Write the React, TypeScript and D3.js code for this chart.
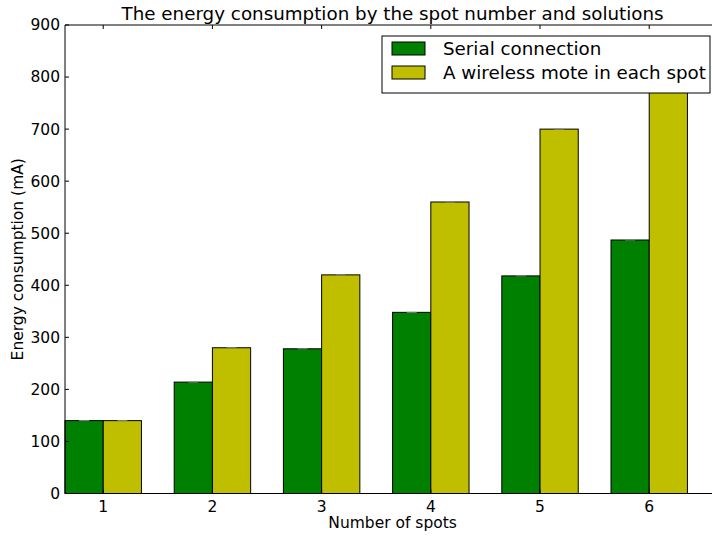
import React from "react";
import * as d3 from "d3";

const spots = [1, 2, 3, 4, 5, 6];
const serialValues = [140, 214, 278, 348, 418, 487];
const wirelessValues = [140, 280, 420, 560, 700, 840];
const yTicks = [0, 100, 200, 300, 400, 500, 600, 700, 800, 900];
const seriesNames = ["Serial connection", "A wireless mote in each spot"];
const seriesColors = ["#008000", "#bfbf00"];

const W = 712;
const H = 537;
const margin = { left: 65, top: 25, bottom: 43.5 };
const barW = 0.35;

export default function App() {
  const x = d3
    .scaleLinear()
    .domain([1 - barW, 1 - barW + 6])
    .range([margin.left, margin.left + 6 * 109.2]);
  const y = d3.scaleLinear().domain([0, 900]).range([H - margin.bottom, margin.top]);
  const x0 = margin.left;
  const x1 = x.range()[1];
  const y0 = y(0);
  const yTop = y(900);
  const font = "DejaVu Sans, sans-serif";
  const series = [serialValues, wirelessValues];

  return (
    <svg width={W} height={H} style={{ position: "absolute", left: 0, top: 0, background: "#fff", overflow: "hidden" }}>
      <rect x={0} y={0} width={W} height={H} fill="#fff" />
      {series.map((vals, si) =>
        spots.map((s, i) => {
          const left = si === 0 ? x(s - barW) : x(s);
          const right = si === 0 ? x(s) : x(s + barW);
          const cx = (left + right) / 2;
          return (
            <g key={`${si}-${i}`}>
              <rect
                x={left}
                y={y(vals[i])}
                width={right - left}
                height={y0 - y(vals[i])}
                fill={seriesColors[si]}
                stroke="#000"
                strokeWidth={1}
              />
              <line x1={cx - 5} x2={cx + 5} y1={y(vals[i])} y2={y(vals[i])} stroke="#888" strokeWidth={1} />
            </g>
          );
        })
      )}
      {/* frame */}
      <line x1={x0} x2={x0} y1={yTop} y2={y0} stroke="#000" strokeWidth={1} />
      <line x1={x0} x2={x1} y1={yTop} y2={yTop} stroke="#000" strokeWidth={1} />
      <line x1={x0} x2={x1} y1={y0} y2={y0} stroke="#000" strokeWidth={1} />
      {/* y ticks */}
      {yTicks.map((t) => (
        <g key={t}>
          <line x1={x0} x2={x0 + 4} y1={y(t)} y2={y(t)} stroke="#000" />
          <text x={x0 - 5} y={y(t)} dy="0.35em" textAnchor="end" fontFamily={font} fontSize={15.5} fill="#000">
            {t}
          </text>
        </g>
      ))}
      {/* x ticks */}
      {spots.map((s) => (
        <g key={s}>
          <line x1={x(s)} x2={x(s)} y1={y0} y2={y0 - 4} stroke="#000" />
          <line x1={x(s)} x2={x(s)} y1={yTop} y2={yTop + 4} stroke="#000" />
          <text x={x(s)} y={y0 + 18} textAnchor="middle" fontFamily={font} fontSize={15.5} fill="#000">
            {s}
          </text>
        </g>
      ))}
      <text x={(x0 + x1) / 2} y={528} textAnchor="middle" fontFamily={font} fontSize={15.5} fill="#000">
        Number of spots
      </text>
      <text
        transform={`translate(23,${(yTop + y0) / 2}) rotate(-90)`}
        textAnchor="middle"
        fontFamily={font}
        fontSize={15.5}
        fill="#000"
      >
        Energy consumption (mA)
      </text>
      <text x={(x0 + x1) / 2} y={20} textAnchor="middle" fontFamily={font} fontSize={18.3} fill="#000">
        The energy consumption by the spot number and solutions
      </text>
      {/* legend */}
      <g>
        <rect x={382} y={36} width={328} height={57} fill="#fff" stroke="#000" strokeWidth={1} />
        {seriesNames.map((n, i) => (
          <g key={n}>
            <rect x={392} y={42 + i * 24} width={33} height={13} fill={seriesColors[i]} stroke="#000" strokeWidth={1} />
            <text x={443} y={49 + i * 24} dy="0.35em" fontFamily={font} fontSize={18.3} fill="#000">
              {n}
            </text>
          </g>
        ))}
      </g>
    </svg>
  );
}
